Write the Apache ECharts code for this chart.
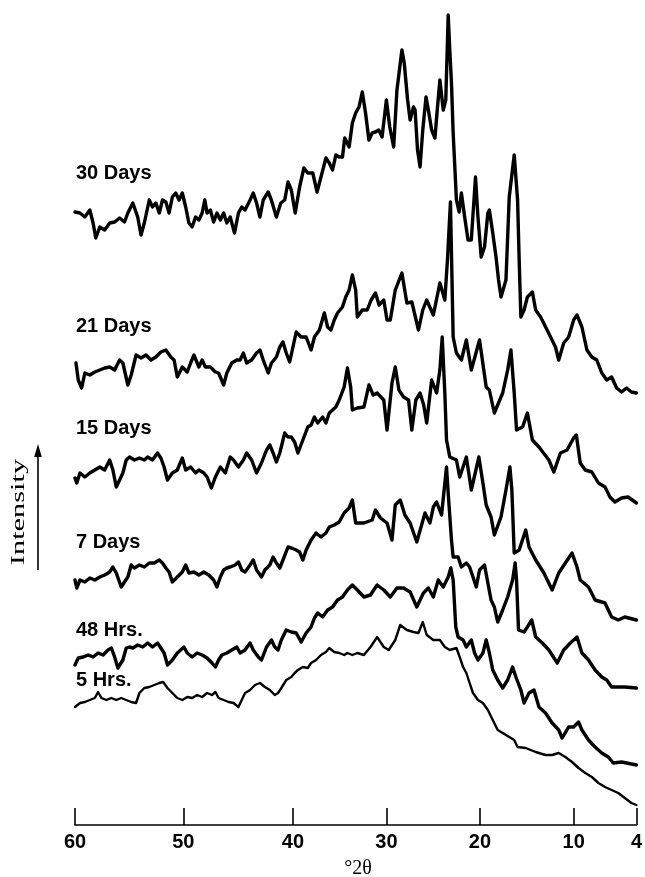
<!DOCTYPE html>
<html>
<head>
<meta charset="utf-8">
<script src="https://cdn.jsdelivr.net/npm/echarts@6/dist/echarts.min.js"></script>
<style>
html,body{margin:0;padding:0;background:#fff;}
#chart{width:645px;height:877px;}
</style>
</head>
<body>
<div id="chart"></div>
<script>
// ---- tick labels of the 2-theta axis (reference axis is not evenly spaced) ----
const tickLabels = [60, 50, 40, 30, 20, 10, 4];

// ---- series names ----
const seriesNames = ['30 Days', '21 Days', '15 Days', '7 Days', '48 Hrs.', '5 Hrs.'];

// ---- data: [2theta (deg), intensity (a.u., stacked as drawn)] ----
const days30 = [[60.00,613],[59.54,612],[59.09,608],[58.63,615],[58.33,602],[58.08,587],[57.71,598],[57.26,595],[56.80,602],[56.34,603],[55.88,607],[55.43,603],[55.12,612],[54.66,622],[54.21,608],[53.90,590],[53.60,602],[53.14,625],[52.84,618],[52.53,622],[52.22,612],[51.92,625],[51.61,623],[51.31,612],[51.01,628],[50.70,632],[50.39,625],[50.09,632],[49.78,618],[49.49,602],[49.19,598],[48.88,608],[48.58,605],[48.28,612],[48.04,625],[47.83,612],[47.53,615],[47.23,603],[46.93,612],[46.62,605],[46.32,612],[46.03,602],[45.72,608],[45.33,592],[44.97,612],[44.67,618],[44.37,615],[43.91,625],[43.62,632],[43.32,622],[43.01,608],[42.71,625],[42.26,633],[41.97,625],[41.51,608],[41.11,622],[40.75,625],[40.45,643],[40.15,635],[39.76,612],[39.29,638],[38.83,657],[38.41,652],[37.88,652],[37.42,633],[37.00,648],[36.47,667],[36.11,662],[35.76,655],[35.41,670],[35.05,668],[34.70,668],[34.46,687],[33.99,678],[33.64,702],[33.29,712],[32.93,718],[32.58,733],[32.23,712],[31.87,685],[31.52,692],[31.17,693],[30.81,695],[30.46,688],[30.00,725],[29.64,698],[29.22,678],[28.87,735],[28.34,775],[28.09,762],[27.73,725],[27.46,705],[27.10,718],[26.93,715],[26.67,675],[26.40,658],[26.11,695],[25.76,728],[25.51,715],[25.16,695],[24.81,687],[24.56,715],[24.28,745],[23.92,715],[23.65,725],[23.39,810],[23.22,775],[23.04,742],[22.86,692],[22.51,625],[22.22,613],[21.98,632],[21.63,608],[21.27,585],[20.92,585],[20.47,648],[20.21,608],[19.86,568],[19.51,578],[19.15,612],[18.99,615],[18.63,592],[18.28,568],[18.01,545],[17.75,528],[17.22,545],[16.87,628],[16.34,670],[15.98,625],[15.81,565],[15.63,508],[15.29,515],[14.93,528],[14.40,533],[14.05,515],[13.52,508],[12.99,498],[12.46,488],[11.94,478],[11.59,465],[11.06,482],[10.53,488],[10.00,505],[9.68,510],[9.21,498],[8.73,475],[8.26,468],[7.79,465],[7.31,452],[6.84,445],[6.37,448],[5.89,437],[5.42,433],[4.95,437],[4.48,433],[4.00,432]];

const days21 = [[59.91,462],[59.70,445],[59.39,437],[59.09,452],[58.63,450],[58.17,453],[57.71,455],[57.26,457],[56.80,458],[56.34,455],[55.88,465],[55.58,462],[55.12,440],[54.81,450],[54.36,470],[53.90,467],[53.44,470],[52.98,465],[52.53,468],[52.07,473],[51.61,475],[51.15,468],[50.85,465],[50.55,448],[50.09,458],[49.64,453],[49.33,462],[49.03,470],[48.58,458],[48.28,465],[47.98,458],[47.53,458],[47.07,453],[46.78,452],[46.32,440],[46.03,452],[45.58,462],[45.12,465],[44.82,465],[44.52,472],[44.22,462],[43.77,465],[43.32,472],[43.01,475],[42.71,465],[42.26,452],[41.96,462],[41.51,468],[41.20,478],[40.91,483],[40.61,472],[40.30,463],[40.00,478],[39.65,493],[39.12,488],[38.59,488],[38.06,475],[37.70,488],[37.17,495],[36.64,512],[36.29,498],[35.94,495],[35.58,505],[35.23,512],[34.70,518],[34.35,528],[33.99,535],[33.64,550],[33.29,535],[33.11,508],[32.58,515],[32.05,515],[31.63,525],[31.17,532],[30.78,520],[30.28,525],[29.93,505],[29.58,505],[29.05,535],[28.34,552],[27.81,522],[27.28,523],[26.57,495],[26.11,515],[25.69,525],[24.98,510],[24.28,542],[23.75,525],[23.47,565],[23.15,623],[22.86,488],[22.51,472],[21.98,465],[21.45,485],[20.92,455],[20.04,485],[19.33,438],[18.99,435],[18.46,412],[17.57,432],[17.04,455],[16.69,475],[16.34,432],[16.09,395],[15.45,398],[14.93,412],[14.40,385],[13.70,378],[12.64,365],[12.11,353],[11.41,372],[10.70,375],[10.00,387],[9.74,390],[9.37,362],[8.89,355],[8.26,353],[7.63,342],[7.00,338],[6.53,328],[6.06,323],[5.42,327],[4.80,328],[4.00,322]];

const days15 = [[60.00,347],[59.84,342],[59.54,352],[59.09,348],[58.63,352],[58.17,355],[57.71,358],[57.26,355],[56.80,365],[56.50,355],[56.19,338],[55.88,345],[55.58,352],[55.27,365],[54.97,368],[54.51,365],[54.05,367],[53.60,365],[53.29,368],[52.84,365],[52.38,372],[52.07,367],[51.77,358],[51.46,345],[51.01,352],[50.55,355],[50.09,367],[49.78,355],[49.33,358],[48.88,352],[48.58,355],[48.13,352],[47.83,348],[47.44,337],[47.07,348],[46.62,358],[46.17,352],[45.72,368],[45.42,365],[44.97,358],[44.52,365],[44.22,372],[43.77,365],[43.32,352],[42.87,362],[42.41,375],[42.11,380],[41.81,372],[41.51,363],[41.20,372],[40.75,392],[40.45,388],[40.15,388],[39.82,383],[39.47,372],[38.94,385],[38.41,398],[38.06,400],[37.70,408],[37.35,402],[36.82,408],[36.47,402],[36.11,412],[35.76,415],[35.41,418],[35.05,425],[34.52,438],[34.17,457],[33.82,438],[33.64,415],[33.11,417],[32.40,418],[31.87,440],[31.41,430],[30.99,432],[30.28,425],[29.93,395],[29.40,442],[29.05,458],[28.66,435],[28.16,428],[27.63,425],[27.28,395],[26.85,425],[26.40,432],[26.01,420],[25.69,402],[25.16,445],[24.63,432],[24.28,455],[24.03,488],[23.75,432],[23.57,385],[23.22,368],[22.51,365],[22.16,348],[21.45,368],[20.92,335],[20.11,368],[19.68,342],[19.33,320],[18.81,308],[18.46,290],[17.75,308],[17.22,335],[16.80,358],[16.59,335],[16.34,272],[15.81,275],[15.11,295],[14.76,278],[14.05,265],[13.17,252],[12.29,235],[11.59,252],[10.88,262],[10.17,272],[9.68,258],[9.37,245],[8.58,238],[7.95,225],[7.00,222],[6.37,208],[5.74,205],[5.11,208],[4.00,205]];

const days7 = [[60.00,245],[59.84,237],[59.54,245],[59.09,243],[58.63,247],[58.17,245],[57.71,248],[57.26,250],[56.80,253],[56.50,258],[56.19,252],[55.73,238],[55.43,243],[55.12,248],[54.81,260],[54.51,257],[54.05,260],[53.60,258],[53.14,262],[52.68,262],[52.22,265],[51.92,262],[51.61,257],[51.31,253],[51.01,243],[50.55,248],[50.09,253],[49.78,260],[49.49,252],[49.03,253],[48.58,250],[48.13,253],[47.68,250],[47.23,245],[46.93,238],[46.62,248],[46.32,255],[46.03,257],[45.72,258],[45.27,260],[44.97,263],[44.67,255],[44.37,253],[43.91,260],[43.62,265],[43.32,255],[42.87,248],[42.56,255],[42.11,260],[41.81,268],[41.51,262],[41.20,257],[40.91,265],[40.45,278],[40.15,277],[39.65,275],[39.29,273],[38.94,265],[38.59,275],[38.06,285],[37.53,292],[37.00,288],[36.47,292],[36.11,298],[35.58,300],[35.05,303],[34.52,312],[33.99,317],[33.64,325],[33.29,302],[32.40,302],[31.52,305],[31.17,315],[30.64,307],[29.93,302],[29.40,285],[29.05,320],[28.52,325],[28.02,310],[27.46,302],[26.75,283],[25.87,312],[25.34,302],[24.98,318],[24.63,323],[24.10,310],[23.57,358],[23.39,332],[23.04,285],[22.86,268],[22.33,268],[21.98,258],[21.45,262],[21.10,258],[20.74,248],[20.39,238],[20.04,255],[19.51,260],[19.15,242],[18.81,225],[18.46,218],[18.10,203],[17.57,215],[17.04,228],[16.51,245],[16.24,262],[16.09,245],[15.88,195],[15.29,193],[14.93,198],[14.47,205],[14.05,188],[13.34,182],[12.64,175],[11.75,162],[11.06,175],[10.35,182],[9.68,188],[9.21,172],[8.58,165],[7.95,155],[7.31,148],[6.84,145],[6.37,138],[5.11,138],[4.00,137]];

const hrs48 = [[60.00,160],[59.84,162],[59.70,167],[59.24,168],[58.78,170],[58.33,168],[57.87,172],[57.41,170],[56.95,175],[56.64,177],[56.34,168],[56.04,157],[55.58,165],[55.27,177],[54.97,178],[54.66,177],[54.21,180],[53.75,178],[53.29,182],[52.84,178],[52.38,182],[52.07,177],[51.77,172],[51.46,160],[51.01,165],[50.55,172],[50.24,175],[49.94,178],[49.64,172],[49.19,168],[48.74,172],[48.28,170],[47.83,167],[47.38,162],[47.07,158],[46.78,165],[46.48,170],[46.03,172],[45.58,175],[45.12,178],[44.82,172],[44.37,175],[43.91,182],[43.62,175],[43.16,168],[42.87,165],[42.41,178],[41.96,185],[41.66,178],[41.36,175],[41.06,185],[40.61,195],[40.15,193],[39.65,192],[39.12,183],[38.59,192],[38.06,198],[37.70,207],[37.35,212],[36.82,208],[36.29,215],[35.76,218],[35.23,225],[34.70,228],[34.17,235],[33.64,240],[33.11,235],[32.40,228],[31.70,230],[30.99,240],[30.28,235],[29.58,228],[28.87,237],[28.16,237],[27.46,233],[26.75,218],[26.04,232],[25.51,237],[24.98,228],[24.45,245],[23.92,238],[23.39,248],[23.11,257],[22.86,245],[22.58,198],[22.33,188],[21.80,185],[21.45,178],[20.92,185],[20.57,172],[20.21,165],[19.68,172],[19.33,185],[18.99,172],[18.63,155],[18.10,145],[17.57,137],[17.04,145],[16.51,158],[16.16,148],[15.63,135],[15.29,122],[14.76,132],[14.23,135],[13.70,118],[13.00,112],[12.29,102],[11.59,95],[11.23,87],[10.53,98],[10.00,98],[9.53,103],[9.21,95],[8.58,85],[7.95,78],[7.31,72],[6.69,68],[6.22,62],[5.42,63],[4.00,60]];

const hrs5 = [[60.00,118],[59.54,122],[59.09,123],[58.63,125],[58.17,127],[57.87,133],[57.56,127],[57.10,125],[56.64,127],[56.19,125],[55.73,127],[55.27,125],[54.81,123],[54.36,122],[54.05,132],[53.60,137],[53.14,138],[52.68,140],[52.22,142],[51.86,143],[51.46,137],[51.01,132],[50.55,127],[50.09,125],[49.64,128],[49.19,127],[48.74,130],[48.28,128],[47.83,132],[47.38,130],[47.07,133],[46.78,127],[46.32,125],[45.87,123],[45.42,122],[44.97,118],[44.67,125],[44.37,132],[43.91,135],[43.46,140],[43.01,142],[42.56,138],[42.11,135],[41.66,130],[41.36,132],[41.06,137],[40.61,145],[40.15,148],[39.82,152],[39.47,155],[38.94,158],[38.41,157],[38.06,162],[37.53,165],[37.00,170],[36.47,173],[36.11,177],[35.58,173],[35.05,172],[34.52,170],[34.17,172],[33.64,170],[33.11,172],[32.40,170],[31.70,178],[30.99,188],[30.28,178],[29.75,175],[29.05,185],[28.52,200],[27.81,195],[27.10,193],[26.57,192],[26.11,203],[25.69,190],[24.98,185],[24.28,185],[23.75,178],[23.22,175],[22.51,177],[22.16,168],[21.80,158],[21.45,152],[21.10,142],[20.74,132],[20.21,125],[19.68,122],[19.15,115],[18.63,105],[18.10,95],[17.57,92],[16.87,88],[16.34,85],[15.98,78],[15.11,77],[14.05,73],[13.00,70],[12.29,70],[11.59,72],[10.88,68],[10.17,63],[9.53,57],[8.89,52],[8.26,48],[7.63,42],[7.00,38],[6.37,35],[5.74,32],[5.11,27],[4.48,22],[4.00,20]];

const seriesData = [days30, days21, days15, days7, hrs48, hrs5];

// ---- axis calibration: relative spacing of the reference's tick marks (in axis units) ----
const axisStops = [0, 109.3, 220, 314.3, 408.7, 503.3, 566.7];

function warp(t) {
  for (let i = 0; i < tickLabels.length - 1; i++) {
    const a = tickLabels[i], b = tickLabels[i + 1];
    if (t <= a && t >= b) {
      return axisStops[i] + (a - t) / (a - b) * (axisStops[i + 1] - axisStops[i]);
    }
  }
  return t > tickLabels[0] ? axisStops[0] : axisStops[axisStops.length - 1];
}
function labelFor(v) {
  let best = 0, d = Infinity;
  axisStops.forEach((s, i) => { const dd = Math.abs(s - v); if (dd < d) { d = dd; best = i; } });
  return String(tickLabels[best]);
}

const labelY = [173, 326, 428, 542, 630, 680];
const widths = [3.4, 3.4, 3.4, 3.4, 3.4, 2.4];

const chart = echarts.init(document.getElementById('chart'), null, { renderer: 'canvas' });

const series = seriesNames.map((name, k) => ({
  name: name,
  type: 'line',
  showSymbol: false,
  symbol: 'none',
  animation: false,
  lineStyle: { color: '#000', width: widths[k], join: 'round', cap: 'round' },
  data: seriesData[k].map(p => [warp(p[0]), p[1]])
}));

const graphics = seriesNames.map((name, k) => ({
  type: 'text',
  x: 76,
  y: labelY[k],
  style: {
    text: name,
    fill: '#000',
    font: 'bold 20px "Liberation Sans", Arial, sans-serif',
    align: 'left',
    verticalAlign: 'middle'
  }
}));

graphics.push(
  {
    type: 'text',
    x: 19,
    y: 512,
    rotation: Math.PI / 2,
    scaleX: 1.6,
    scaleY: 1,
    style: {
      text: 'Intensity',
      fill: '#000',
      font: '19px "Liberation Serif", "Times New Roman", serif',
      align: 'center',
      verticalAlign: 'middle'
    }
  },
  {
    type: 'line',
    shape: { x1: 38, y1: 570, x2: 38, y2: 455 },
    style: { stroke: '#000', lineWidth: 1.6 }
  },
  {
    type: 'polygon',
    shape: { points: [[38, 444], [34.2, 457], [41.8, 457]] },
    style: { fill: '#000' }
  },
  {
    type: 'text',
    x: 358,
    y: 869,
    style: {
      text: '\u00b02\u03b8',
      fill: '#000',
      font: '20px "Liberation Serif", "Times New Roman", serif',
      align: 'center',
      verticalAlign: 'middle'
    }
  }
);

chart.setOption({
  animation: false,
  backgroundColor: '#fff',
  grid: { left: 75, right: 3.3, top: 10, bottom: 52, containLabel: false },
  xAxis: {
    type: 'value',
    min: 0,
    max: 566.7,
    axisLine: { show: true, lineStyle: { color: '#000', width: 1.6 } },
    axisTick: { show: true, inside: true, length: 17, customValues: axisStops, lineStyle: { color: '#000', width: 1.6 } },
    axisLabel: {
      show: true,
      customValues: axisStops,
      formatter: v => labelFor(v),
      margin: 7,
      color: '#000',
      fontSize: 20,
      fontWeight: 'bold',
      fontFamily: '"Liberation Sans", Arial, sans-serif',
      showMinLabel: true,
      showMaxLabel: true
    },
    splitLine: { show: false }
  },
  yAxis: {
    type: 'value',
    min: 0,
    max: 815,
    show: false,
    splitLine: { show: false }
  },
  series: series,
  graphic: graphics
});
</script>
</body>
</html>
